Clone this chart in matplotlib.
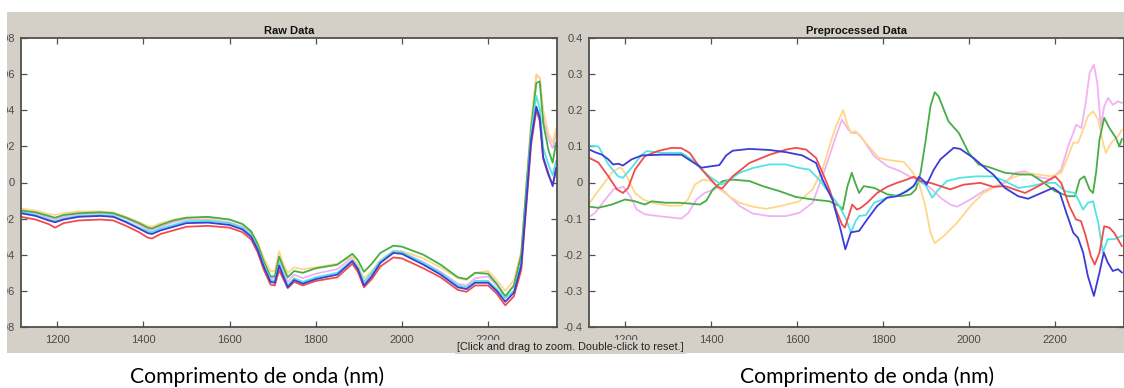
import matplotlib
matplotlib.use("Agg")
import matplotlib.pyplot as plt
from matplotlib.patches import Rectangle

# ---------------- data ----------------
# Raw spectra (shared wavelength grid, nm)
raw_wl = [1116, 1150, 1180, 1195, 1215, 1250, 1300, 1330, 1360, 1390, 1410, 1420,
          1440, 1470, 1500, 1550, 1600, 1630, 1650, 1665, 1680, 1695, 1705, 1715,
          1725, 1735, 1750, 1770, 1800, 1850, 1885, 1898, 1912, 1930, 1950, 1980,
          2000, 2050, 2090, 2130, 2150, 2170, 2200, 2220, 2240, 2260, 2277, 2288,
          2300, 2312, 2320, 2328, 2340, 2350, 2358]

raw_red = [-0.019, -0.0205, -0.023, -0.025, -0.0225, -0.021, -0.0205, -0.021, -0.024, -0.0275, -0.0305, -0.031,
           -0.0285, -0.0265, -0.0245, -0.024, -0.025, -0.0275, -0.0315, -0.0385, -0.0485, -0.0565, -0.057, -0.0485,
           -0.0535, -0.0585, -0.055, -0.057, -0.0545, -0.0525, -0.045, -0.0495, -0.058, -0.0535, -0.0465, -0.0415,
           -0.042, -0.0475, -0.0525, -0.0595, -0.0605, -0.057, -0.057, -0.0615, -0.068, -0.063, -0.0485, -0.0155,
           0.021, 0.040, 0.034, 0.013, 0.004, -0.001, 0.007]
raw_blue = [-0.017, -0.0185, -0.021, -0.022, -0.0205, -0.019, -0.0185, -0.019, -0.022, -0.0255, -0.028, -0.0285,
            -0.0265, -0.0245, -0.0225, -0.0222, -0.0235, -0.026, -0.030, -0.037, -0.047, -0.055, -0.0555, -0.046,
            -0.052, -0.058, -0.054, -0.056, -0.0535, -0.051, -0.0435, -0.048, -0.057, -0.052, -0.0445, -0.039,
            -0.0395, -0.0455, -0.051, -0.058, -0.059, -0.0555, -0.0555, -0.060, -0.066, -0.061, -0.046, -0.013,
            0.024, 0.042, 0.036, 0.014, 0.005, -0.002, 0.008]
raw_cyan = [-0.0165, -0.018, -0.0205, -0.0215, -0.020, -0.0185, -0.018, -0.0185, -0.0215, -0.025, -0.027, -0.0275,
            -0.0255, -0.0235, -0.0215, -0.0212, -0.0225, -0.025, -0.029, -0.036, -0.046, -0.054, -0.0545, -0.045,
            -0.051, -0.057, -0.053, -0.055, -0.0525, -0.050, -0.043, -0.047, -0.055, -0.050, -0.0435, -0.038,
            -0.0385, -0.0445, -0.050, -0.057, -0.058, -0.0545, -0.0545, -0.059, -0.064, -0.060, -0.045, -0.011,
            0.027, 0.048, 0.041, 0.019, 0.010, 0.004, 0.012]
raw_green = [-0.0155, -0.0165, -0.0185, -0.0195, -0.018, -0.017, -0.0165, -0.017, -0.0195, -0.0225, -0.025, -0.0255,
             -0.0235, -0.021, -0.0195, -0.019, -0.0205, -0.023, -0.027, -0.034, -0.044, -0.052, -0.052, -0.041,
             -0.047, -0.0525, -0.049, -0.050, -0.0475, -0.0455, -0.0395, -0.043, -0.0495, -0.045, -0.039, -0.035,
             -0.0355, -0.040, -0.0455, -0.0525, -0.0535, -0.050, -0.0505, -0.056, -0.063, -0.057, -0.040, -0.005,
             0.030, 0.055, 0.056, 0.033, 0.018, 0.011, 0.022]
raw_yellow = [-0.0145, -0.0155, -0.0175, -0.018, -0.017, -0.016, -0.016, -0.0165, -0.019, -0.022, -0.024, -0.0245,
              -0.0225, -0.0205, -0.0195, -0.0195, -0.0205, -0.023, -0.027, -0.033, -0.042, -0.049, -0.049, -0.038,
              -0.045, -0.050, -0.047, -0.048, -0.047, -0.045, -0.041, -0.046, -0.053, -0.049, -0.043, -0.038,
              -0.038, -0.042, -0.047, -0.053, -0.054, -0.050, -0.049, -0.054, -0.060, -0.054, -0.038, -0.004,
              0.034, 0.060, 0.058, 0.040, 0.027, 0.022, 0.030]
raw_pink = [-0.016, -0.017, -0.0195, -0.0205, -0.019, -0.0175, -0.017, -0.0175, -0.020, -0.0235, -0.026, -0.0265,
            -0.0245, -0.022, -0.0205, -0.0205, -0.022, -0.0245, -0.028, -0.035, -0.045, -0.053, -0.053, -0.043,
            -0.049, -0.055, -0.051, -0.053, -0.0505, -0.048, -0.0415, -0.046, -0.055, -0.051, -0.044, -0.039,
            -0.039, -0.044, -0.0495, -0.056, -0.057, -0.053, -0.052, -0.057, -0.063, -0.057, -0.041, -0.006,
            0.032, 0.059, 0.058, 0.037, 0.024, 0.019, 0.027]

# Preprocessed spectra (each with its own wavelength samples, nm)
pre_blue_wl = [1117, 1130, 1146, 1160, 1172, 1184, 1195, 1215, 1239, 1285, 1331, 1354, 1378, 1400,
               1419, 1435, 1450, 1489, 1536, 1574, 1612, 1644, 1659, 1682, 1701, 1712, 1725, 1744,
               1763, 1786, 1809, 1832, 1855, 1871, 1883, 1894, 1901, 1918, 1933, 1964, 1979, 2010,
               2041, 2056, 2083, 2114, 2137, 2168, 2195, 2211, 2226, 2242, 2253, 2265, 2276, 2290,
               2303, 2313, 2322, 2334, 2346, 2355]
pre_blue = [0.091, 0.084, 0.077, 0.065, 0.050, 0.052, 0.047, 0.064, 0.075, 0.077, 0.077, 0.059, 0.041, 0.045,
            0.048, 0.075, 0.088, 0.093, 0.090, 0.084, 0.075, 0.054, 0.008, -0.047, -0.130, -0.185, -0.138, -0.134,
            -0.102, -0.065, -0.042, -0.038, -0.024, -0.010, 0.016, 0.005, -0.006, 0.036, 0.064, 0.096, 0.093, 0.068,
            0.036, 0.022, -0.015, -0.038, -0.045, -0.029, -0.015, -0.029, -0.084, -0.139, -0.153, -0.194, -0.259, -0.314,
            -0.249, -0.194, -0.221, -0.245, -0.240, -0.249]

pre_red_wl = [1117, 1138, 1161, 1181, 1195, 1207, 1223, 1246, 1276, 1308, 1331, 1350, 1369, 1392,
              1415, 1425, 1450, 1489, 1536, 1574, 1597, 1621, 1644, 1659, 1675, 1690, 1704, 1711,
              1721, 1728, 1739, 1748, 1763, 1786, 1809, 1832, 1855, 1871, 1887, 1910, 1933, 1956,
              1987, 2026, 2056, 2083, 2130, 2161, 2200, 2214, 2233, 2248, 2260, 2271, 2283, 2292,
              2303, 2314, 2326, 2337, 2355]
pre_red = [0.068, 0.055, 0.017, -0.019, -0.029, -0.015, 0.036, 0.073, 0.087, 0.096, 0.095, 0.082, 0.050, 0.017,
           -0.012, -0.017, 0.017, 0.054, 0.077, 0.091, 0.096, 0.091, 0.068, 0.027, -0.019, -0.075, -0.116, -0.125,
           -0.088, -0.061, -0.075, -0.070, -0.056, -0.029, -0.012, -0.001, 0.008, 0.016, 0.004, -0.001, -0.010, -0.019,
           -0.006, -0.001, -0.012, -0.010, -0.029, -0.010, 0.017, -0.001, -0.065, -0.102, -0.107, -0.148, -0.204, -0.227,
           -0.194, -0.121, -0.125, -0.139, -0.176]

pre_cyan_wl = [1117, 1138, 1161, 1184, 1195, 1215, 1239, 1250, 1285, 1331, 1354, 1378, 1400, 1424,
               1442, 1466, 1497, 1536, 1574, 1605, 1628, 1651, 1675, 1698, 1714, 1725, 1736, 1744,
               1760, 1779, 1809, 1840, 1864, 1883, 1898, 1914, 1929, 1948, 1979, 2017, 2056, 2083,
               2114, 2145, 2176, 2200, 2223, 2246, 2265, 2276, 2288, 2300, 2311, 2322, 2337, 2355]
pre_cyan = [0.102, 0.100, 0.050, 0.017, 0.013, 0.041, 0.077, 0.087, 0.082, 0.082, 0.064, 0.036, 0.013, -0.006,
            0.008, 0.027, 0.040, 0.050, 0.050, 0.040, 0.036, 0.008, -0.029, -0.065, -0.102, -0.139, -0.107, -0.093,
            -0.090, -0.056, -0.042, -0.033, -0.015, 0.004, -0.006, -0.042, -0.019, 0.004, 0.013, 0.017, 0.017, 0.004,
            -0.015, -0.010, -0.001, -0.001, -0.024, -0.029, -0.075, -0.056, -0.052, -0.111, -0.194, -0.157, -0.157, -0.148]

pre_green_wl = [1117, 1138, 1169, 1200, 1223, 1246, 1262, 1293, 1323, 1347, 1374, 1389, 1404, 1427,
                1450, 1489, 1520, 1559, 1597, 1636, 1675, 1698, 1706, 1717, 1727, 1735, 1744, 1755,
                1779, 1810, 1840, 1864, 1876, 1887, 1898, 1910, 1920, 1929, 1952, 1976, 1999, 2022,
                2045, 2083, 2122, 2145, 2168, 2200, 2230, 2246, 2257, 2268, 2280, 2288, 2295, 2303,
                2314, 2326, 2341, 2349, 2355]
pre_green = [-0.067, -0.070, -0.061, -0.047, -0.052, -0.061, -0.052, -0.056, -0.056, -0.058, -0.061, -0.050, -0.019, 0.004,
             0.008, 0.004, -0.010, -0.024, -0.040, -0.047, -0.052, -0.065, -0.075, -0.010, 0.027, -0.001, -0.029, -0.010,
             -0.015, -0.033, -0.038, -0.033, -0.019, 0.027, 0.110, 0.211, 0.250, 0.238, 0.169, 0.137, 0.082, 0.050,
             0.043, 0.027, 0.022, 0.022, 0.004, -0.024, -0.038, -0.038, 0.008, 0.017, -0.019, -0.029, 0.027, 0.119,
             0.179, 0.151, 0.124, 0.100, 0.120]

pre_yellow_wl = [1117, 1130, 1146, 1169, 1185, 1192, 1204, 1223, 1242, 1262, 1300, 1331, 1346, 1362,
                 1381, 1400, 1419, 1442, 1466, 1497, 1528, 1566, 1605, 1636, 1659, 1675, 1690, 1707,
                 1717, 1725, 1736, 1759, 1790, 1813, 1848, 1867, 1883, 1898, 1910, 1920, 1941, 1972,
                 2003, 2033, 2056, 2091, 2130, 2161, 2191, 2214, 2230, 2242, 2253, 2265, 2276, 2288,
                 2300, 2311, 2318, 2330, 2346, 2355]
pre_yellow = [-0.058, -0.035, -0.010, 0.027, 0.040, 0.040, 0.017, -0.029, -0.047, -0.056, -0.064, -0.064, -0.047, -0.006,
              0.008, 0.004, -0.017, -0.038, -0.056, -0.067, -0.073, -0.064, -0.052, -0.019, 0.036, 0.100, 0.155, 0.200,
              0.160, 0.137, 0.142, 0.110, 0.068, 0.062, 0.057, 0.031, -0.001, -0.065, -0.139, -0.168, -0.148, -0.111,
              -0.065, -0.029, -0.015, 0.008, 0.027, 0.022, 0.017, 0.027, 0.073, 0.110, 0.110, 0.146, 0.183, 0.197,
              0.174, 0.110, 0.082, 0.110, 0.128, 0.146]

pre_pink_wl = [1117, 1131, 1154, 1173, 1196, 1212, 1227, 1246, 1277, 1316, 1331, 1347, 1366, 1385,
               1408, 1419, 1442, 1466, 1497, 1536, 1574, 1605, 1636, 1659, 1675, 1690, 1704, 1719,
               1728, 1740, 1748, 1779, 1810, 1840, 1867, 1887, 1910, 1933, 1956, 1972, 2003, 2033,
               2056, 2083, 2107, 2130, 2153, 2191, 2214, 2230, 2242, 2249, 2261, 2272, 2280, 2290,
               2298, 2306, 2314, 2323, 2334, 2346, 2355]
pre_pink = [-0.095, -0.083, -0.047, -0.019, -0.012, -0.038, -0.075, -0.088, -0.093, -0.098, -0.100, -0.084, -0.047, -0.029,
            -0.019, -0.012, -0.038, -0.065, -0.086, -0.093, -0.093, -0.084, -0.056, 0.017, 0.073, 0.128, 0.174, 0.146,
            0.137, 0.137, 0.128, 0.073, 0.045, 0.031, 0.013, 0.004, -0.015, -0.042, -0.061, -0.067, -0.047, -0.024,
            -0.012, -0.001, 0.027, 0.031, 0.017, 0.008, 0.036, 0.100, 0.137, 0.160, 0.151, 0.229, 0.303, 0.326,
            0.275, 0.155, 0.211, 0.234, 0.215, 0.225, 0.220]

x_ticks = [1200, 1400, 1600, 1800, 2000, 2200]
raw_yticks = [-0.08, -0.06, -0.04, -0.02, 0, 0.02, 0.04, 0.06, 0.08]
raw_ylabels = ['-0.08', '-0.06', '-0.04', '-0.02', '0', '0.02', '0.04', '0.06', '0.08']
pre_yticks = [-0.4, -0.3, -0.2, -0.1, 0, 0.1, 0.2, 0.3, 0.4]
pre_ylabels = ['-0.4', '-0.3', '-0.2', '-0.1', '0', '0.1', '0.2', '0.3', '0.4']

titles = ['Raw Data', 'Preprocessed Data']
x_title = 'Comprimento de onda (nm)'
hint = '[Click and drag to zoom. Double-click to reset.]'

C_PINK, C_YELLOW, C_GREEN = '#f2b2f2', '#ffd68a', '#46ae46'
C_CYAN, C_RED, C_BLUE = '#52e4e4', '#f04c4c', '#3c3cd6'

# ---------------- figure ----------------
W, H = 1124, 388
fig = plt.figure(figsize=(W / 100, H / 100), dpi=100, facecolor='white')

PANEL = '#d4d0c8'
AXC = '#505050'
LBL = '#4a4a4a'


def box(x0, y0, x1, y1):
    """Pixel box (top-left origin) -> figure fraction rect."""
    return [x0 / W, 1 - y1 / H, (x1 - x0) / W, (y1 - y0) / H]


fig.add_artist(Rectangle((7 / W, 1 - 353 / H), 1 - 7 / W, (353 - 12) / H,
                         transform=fig.transFigure, facecolor=PANEL,
                         edgecolor='none', zorder=-10))

ax1 = fig.add_axes(box(21, 38, 557, 327))
ax2 = fig.add_axes(box(589, 38, 1124, 327))


def style(ax, yt, yl, ylim, title):
    ax.set_facecolor('white')
    ax.set_xlim(1116, 2360)
    ax.set_ylim(*ylim)
    ax.set_xticks(x_ticks)
    ax.set_xticklabels([str(t) for t in x_ticks])
    ax.set_yticks(yt)
    ax.set_yticklabels(yl)
    for s in ax.spines.values():
        s.set_color(AXC)
        s.set_linewidth(1.3)
    ax.tick_params(direction='in', length=4, width=0.9, color=AXC,
                   labelcolor=LBL, labelsize=8, top=True, right=True)
    ax.tick_params(axis='x', pad=6)
    ax.tick_params(axis='y', pad=4.5)
    for lab in ax.get_xticklabels() + ax.get_yticklabels():
        lab.set_family('Liberation Sans')
    ax.set_title(title, fontsize=8, fontweight='bold', family='Liberation Sans',
                 color='#111111', pad=3)


style(ax1, raw_yticks, raw_ylabels, (-0.08, 0.08), titles[0])
style(ax2, pre_yticks, pre_ylabels, (-0.4, 0.4), titles[1])

lw = 1.3
for ys, c in [(raw_pink, C_PINK), (raw_yellow, C_YELLOW), (raw_green, C_GREEN),
              (raw_cyan, C_CYAN), (raw_red, C_RED), (raw_blue, C_BLUE)]:
    ax1.plot(raw_wl, ys, color=c, lw=lw)

for xs, ys, c in [(pre_pink_wl, pre_pink, C_PINK), (pre_yellow_wl, pre_yellow, C_YELLOW),
                  (pre_green_wl, pre_green, C_GREEN), (pre_cyan_wl, pre_cyan, C_CYAN),
                  (pre_red_wl, pre_red, C_RED), (pre_blue_wl, pre_blue, C_BLUE)]:
    ax2.plot(xs, ys, color=c, lw=lw)

# zoom hint strip over the tick labels
fig.text(570.5 / W, 1 - 347 / H, hint, ha='center', va='center', fontsize=7.8,
         family='Liberation Sans', color='#222222', zorder=20,
         bbox=dict(facecolor=PANEL, edgecolor='none', pad=1.6))

# white margin at the left edge of the panel
fig.add_artist(Rectangle((0, 0), 7 / W, 1, transform=fig.transFigure,
                         facecolor='white', edgecolor='none', zorder=30))

for cx in (257, 867):
    fig.text(cx / W, 1 - 377 / H, x_title, ha='center', va='center',
             fontsize=15.2, family='Lato', color='black')

fig.savefig('out.png', dpi=100, facecolor='white')
